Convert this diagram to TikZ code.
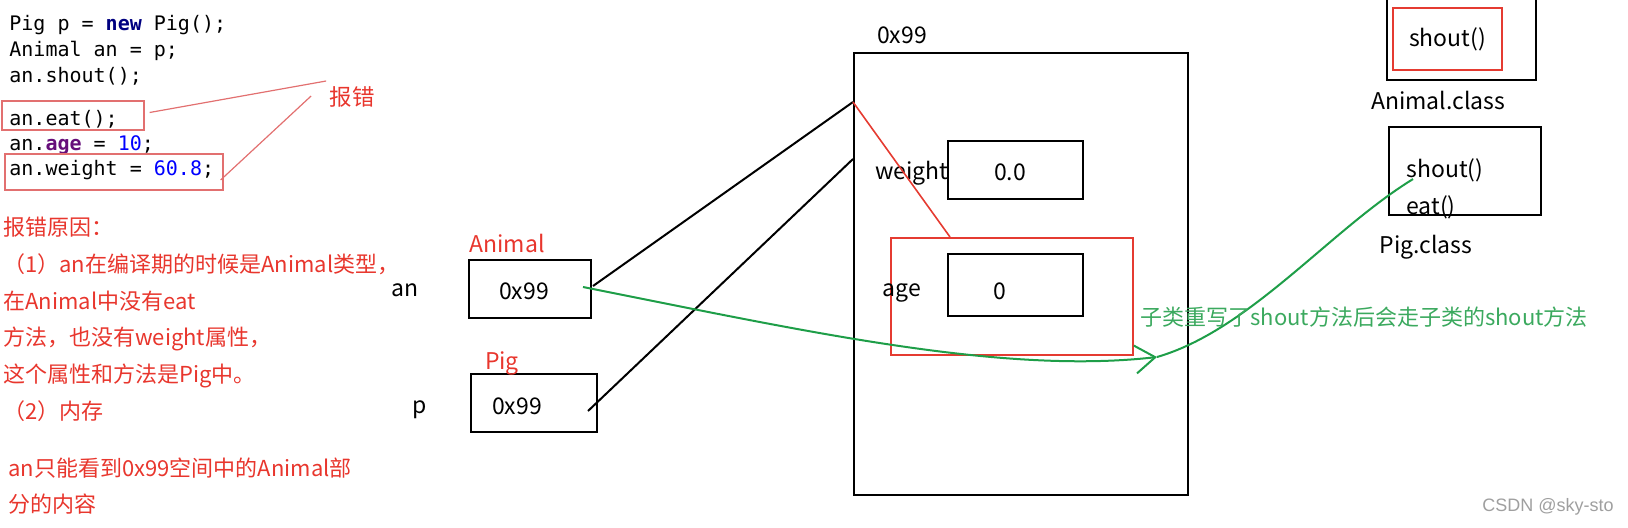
\documentclass[tikz,border=0pt]{standalone}
\usepackage{fontspec}
\setmainfont{Noto Sans CJK SC}
\newfontfamily\codefont{DejaVu Sans Mono}
\newfontfamily\markfont{Liberation Sans}
\usepackage{tikz}
\usetikzlibrary{positioning,arrows.meta,calc}
\usepackage{xcolor}
\definecolor{markred}{HTML}{E8362D}
\definecolor{boxred}{HTML}{E53B31}
\definecolor{codered}{HTML}{E27070}
\definecolor{flowgreen}{HTML}{1E9E48}
\definecolor{textgreen}{HTML}{3BA95E}
\definecolor{kwnavy}{HTML}{000080}
\definecolor{fieldpurple}{HTML}{660E7A}
\definecolor{numblue}{HTML}{0000FF}

\begin{document}
\begin{tikzpicture}[x=0.5pt, y=-0.5pt,
    txt/.style={inner sep=0pt, font=\fontsize{11.5}{14}\selectfont},
    cell/.style={draw, line width=1pt, inner sep=0pt, minimum width=67.5pt, minimum height=29pt, text height=1.1em, text depth=0pt, font=\fontsize{11.5}{14}\selectfont},
    frame/.style={draw, line width=1pt, inner sep=0pt},
    codeline/.style={anchor=base west, inner sep=0pt, font=\codefont\fontsize{10}{12}\selectfont},
    errbox/.style={draw=codered, line width=0.6pt, inner sep=0pt},
    note/.style={anchor=north west, align=left, inner sep=0pt, text=markred, font=\fontsize{11}{18.35}\selectfont},
    ref/.style={line width=1pt},
    flow/.style={flowgreen, line width=1pt}]
    \useasboundingbox (0,0) rectangle (1628,527);

    % code
    \node[codeline] (code1) at (9,30) {Pig p = {\color{kwnavy}\bfseries new} Pig();};
    \node[codeline] (code2) at (9,56) {Animal an = p;};
    \node[codeline] (code3) at (9,82) {an.shout();};
    \node[codeline] (code4) at (9,125) {an.eat();};
    \node[codeline] (code5) at (9,150) {an.{\color{fieldpurple}\bfseries age} = {\color{numblue}10};};
    \node[codeline] (code6) at (9,175) {an.weight = {\color{numblue}60.8};};

    \node[errbox, minimum width=71pt, minimum height=14.5pt] (eatbox) at (73,115.5) {};
    \node[errbox, minimum width=109pt, minimum height=18pt] (wtbox) at (114,172) {};
    \node[txt, text=markred, font=\fontsize{11.25}{14}\selectfont] (errlabel) at (352,97) {报错};
    \draw[codered, line width=0.6pt] ($(eatbox.east)+(5,-3)$) -- ($(errlabel.west)+(-3,-16)$);
    \draw[codered, line width=0.6pt] ($(wtbox.east)+(-3,8)$) -- ($(errlabel.west)+(-18,-1)$);

    % why
    \node[note] (reason) at (3,217) {报错原因：\\（1）an在编译期的时候是Animal类型，\\在Animal中没有eat\\方法，也没有weight属性，\\这个属性和方法是Pig中。\\（2）内存};
    \node[note] (memnote) at (8,457) {an只能看到0x99空间中的Animal部\\分的内容};

    % stack
    \node[txt] (anname) at (405,290) {an};
    \node[cell, minimum width=61pt, text height=1em] (anbox) at (530,289) {0x99\kern6pt};
    \node[txt, text=markred] (antype) at (507,243) {Animal};
    \node[txt] (pname) at (420,410) {p};
    \node[cell, minimum width=63pt] (pbox) at (534,403) {0x99\kern17pt};
    \node[txt, text=markred] (ptype) at (502,363) {Pig};

    % heap
    \node[frame, minimum width=167pt, minimum height=221pt] (heap) at (1021,274) {};
    \node[txt] (heapaddr) at (902,35) {0x99};
    \node[cell] (wtcell) at (1015.5,169.5) {0.0\kern5.5pt};
    \node[txt] (wtname) at (912,173) {weight};
    \node[frame, draw=boxred, minimum width=121pt, minimum height=58.5pt] (animalpart) at (1012,296.5) {};
    \node[cell, minimum height=31pt, text height=1.4em] (agecell) at (1015.5,285) {0\kern16pt};
    \node[txt] (agename) at (902,293) {age};

    % method area
    \node[frame, minimum width=74.5pt, minimum height=41.5pt] (animalclass) at (1461.5,38.5) {};
    \node[frame, draw=boxred, minimum width=54.5pt, minimum height=31pt, font=\fontsize{11.5}{14}\selectfont] (animalshout) at (1447.5,39) {shout()};
    \node[txt] (animalclassname) at (1438,100) {Animal.class};
    \node[frame, minimum width=76pt, minimum height=44pt] (pigclass) at (1465,171) {};
    \node[txt, anchor=west] (pigshout) at (1406,170) {shout()};
    \node[txt, anchor=west] (pigeat) at (1406,207) {eat()};
    \node[txt] (pigclassname) at (1426,247) {Pig.class};

    % references
    \coordinate (heapin) at ($(heap.north west)+(0,50)$);
    \coordinate (heapin2) at ($(heap.north west)+(0,107)$);
    \draw[ref] ($(anbox.east)+(1,-3)$) -- (heapin);
    \draw[ref] ($(pbox.east)+(-10,8)$) -- (heapin2);
    \draw[boxred, line width=0.8pt] (heapin) -- ($(animalpart.north west)+(60,0)$);

    % override call
    \coordinate (bend) at (1157,357);
    \draw[flow, -{Straight Barb[length=10pt,width=14pt]}] ($(anbox.east)+(-9,-2)$) .. controls (800,330) and (1000,375) .. (bend);
    \draw[flow] (bend) .. controls (1250,330) and (1330,230) .. ($(pigshout.south west)+(7,-3)$);
    \node[txt, anchor=west, text=textgreen, font=\fontsize{11}{13}\selectfont] (overridenote) at (1140,317) {子类重写了shout方法后会走子类的shout方法};

    \node[font=\markfont\fontsize{9}{10}\selectfont, text=gray!75, inner sep=0pt] (mark) at (1548,507) {CSDN @sky-sto};
\end{tikzpicture}
\end{document}
